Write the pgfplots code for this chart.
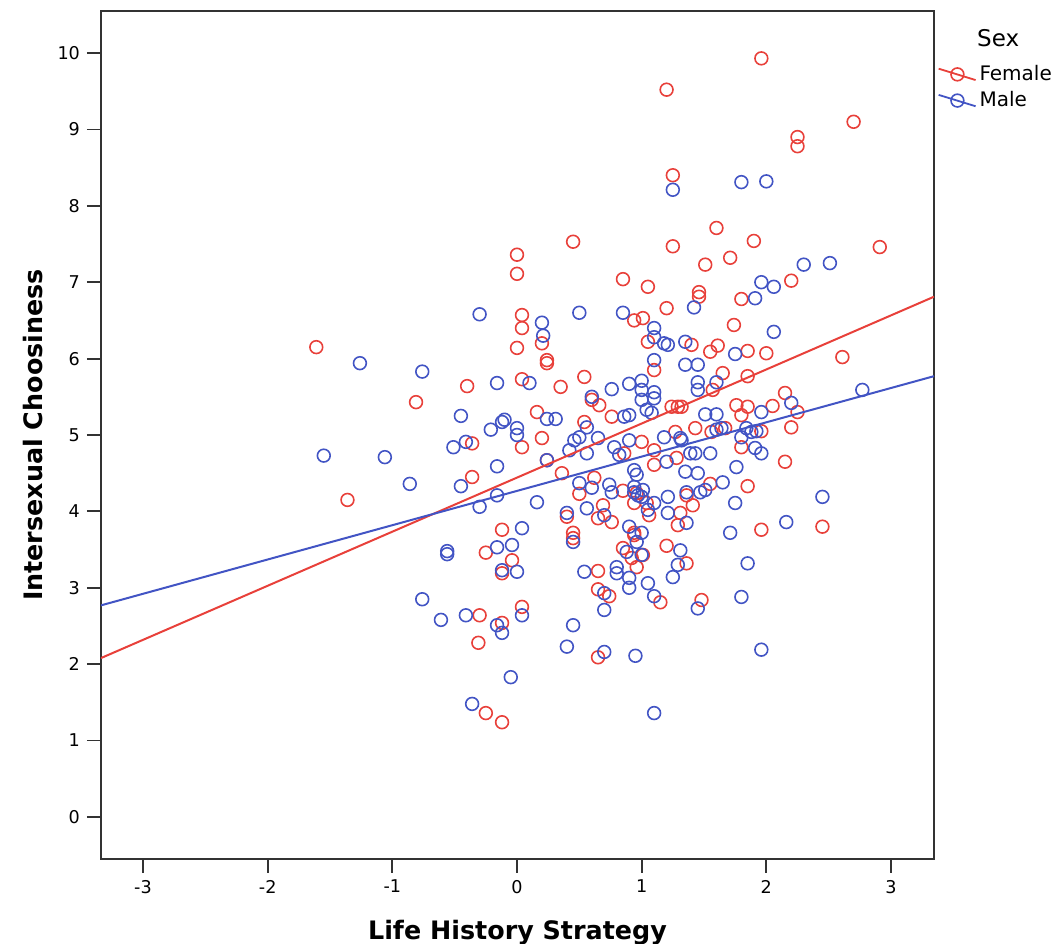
\documentclass[border=0pt]{standalone}
\usepackage{pgfplots}
\usepackage{pgfplotstable}
\pgfplotsset{compat=1.18}
\usepackage{fontspec}
\setmainfont{DejaVu Sans}

\definecolor{fem}{RGB}{232,64,58}
\definecolor{mal}{RGB}{66,84,196}

\pgfplotsset{
  sexleg/.style={legend image code/.code={
    \draw[#1,line width=0.9pt] (0cm,0.1cm) -- (0.65cm,-0.1cm);
    \draw[##1] plot coordinates {(0.33cm,0cm)};}}}

% Life history strategy (x) vs intersexual choosiness (y), by sex
\pgfplotstableread{
x y
1.96 9.93
2.70 9.10
2.25 8.90
2.25 8.78
1.60 7.71
1.90 7.54
2.91 7.46
1.71 7.32
1.51 7.23
2.20 7.02
1.46 6.87
1.46 6.81
1.80 6.78
1.74 6.44
1.20 9.52
1.25 8.40
1.25 7.47
0.45 7.53
0.00 7.36
0.00 7.11
0.85 7.04
1.05 6.94
1.20 6.66
0.94 6.50
1.01 6.53
0.04 6.57
0.04 6.40
0.20 6.20
0.00 6.14
1.40 6.18
1.05 6.22
-1.61 6.15
-0.40 5.64
-0.81 5.43
-0.36 4.89
-0.36 4.45
-1.36 4.15
-0.12 3.76
0.24 5.98
0.24 5.94
1.10 5.85
0.04 5.73
0.35 5.63
0.54 5.76
0.60 5.46
0.66 5.39
0.16 5.30
0.76 5.24
1.24 5.37
1.29 5.37
1.32 5.37
0.54 5.17
0.20 4.96
0.04 4.84
1.00 4.91
1.10 4.80
1.27 5.04
1.43 5.09
1.28 4.70
0.86 4.76
0.24 4.67
0.36 4.50
1.10 4.61
0.62 4.44
0.50 4.23
0.85 4.27
0.96 4.24
0.94 4.11
1.04 4.11
1.36 4.21
1.41 4.08
0.40 3.93
0.69 4.08
0.65 3.91
0.76 3.86
1.06 3.95
1.31 3.98
1.29 3.82
0.94 3.72
0.45 3.72
1.55 6.09
1.61 6.17
1.85 6.10
2.00 6.07
2.61 6.02
1.65 5.81
1.85 5.77
1.57 5.59
2.15 5.55
2.25 5.30
1.76 5.39
1.85 5.37
1.80 5.26
2.05 5.38
1.56 5.04
1.67 5.09
1.96 5.05
2.20 5.10
1.80 4.84
2.15 4.65
1.55 4.36
1.85 4.33
2.45 3.80
1.96 3.76
-0.25 3.46
-0.12 3.19
-0.30 2.64
-0.12 2.54
-0.31 2.28
-0.25 1.36
-0.12 1.24
-0.04 3.36
0.04 2.75
0.45 3.65
0.85 3.52
0.94 3.69
0.92 3.39
0.96 3.27
1.01 3.43
1.20 3.55
1.36 3.32
0.65 3.22
0.65 2.98
0.74 2.89
1.15 2.81
1.48 2.84
0.65 2.09
}\female

\pgfplotstableread{
x y
1.80 8.31
2.00 8.32
2.30 7.23
2.51 7.25
1.96 7.00
2.06 6.94
1.91 6.79
1.42 6.67
2.06 6.35
1.25 8.21
0.50 6.60
0.85 6.60
0.20 6.47
0.21 6.30
1.10 6.40
1.10 6.28
1.18 6.20
1.21 6.18
1.35 6.22
-0.30 6.58
-1.26 5.94
-0.76 5.83
-0.16 5.68
-0.45 5.25
-0.12 5.17
-0.21 5.07
-0.51 4.84
-0.41 4.91
-1.55 4.73
-1.06 4.71
-0.16 4.59
-0.86 4.36
-0.45 4.33
-0.16 4.21
-0.30 4.06
1.10 5.98
1.35 5.92
1.45 5.92
0.10 5.68
0.76 5.60
0.90 5.67
1.00 5.71
1.00 5.59
1.10 5.56
1.10 5.48
1.45 5.69
1.45 5.59
0.60 5.50
1.00 5.46
0.24 5.21
0.31 5.21
0.86 5.24
0.90 5.26
1.04 5.33
1.08 5.29
-0.10 5.20
0.00 5.09
0.00 5.00
0.56 5.10
0.50 4.97
0.46 4.93
0.65 4.96
0.42 4.80
0.56 4.76
0.78 4.84
0.90 4.93
1.18 4.97
1.31 4.96
1.32 4.93
1.39 4.76
1.43 4.76
1.55 4.76
1.20 4.65
0.82 4.74
0.24 4.67
0.94 4.54
0.96 4.48
1.35 4.52
1.45 4.50
0.50 4.37
0.60 4.31
0.74 4.35
0.76 4.25
0.94 4.32
0.94 4.25
0.97 4.21
1.01 4.28
1.00 4.19
1.10 4.11
1.21 4.19
1.36 4.25
1.47 4.25
0.16 4.12
0.40 3.98
0.56 4.04
0.70 3.95
1.05 4.02
1.21 3.98
1.36 3.85
0.04 3.78
0.90 3.80
1.00 3.72
1.75 6.06
1.60 5.69
2.77 5.59
2.20 5.42
1.96 5.30
1.51 5.27
1.60 5.27
1.60 5.07
1.64 5.09
1.84 5.09
1.88 5.04
1.92 5.05
1.80 4.97
1.91 4.83
1.96 4.76
1.76 4.58
1.65 4.38
1.51 4.28
1.75 4.11
2.45 4.19
2.16 3.86
1.71 3.72
-0.56 3.48
-0.56 3.44
-0.16 3.53
-0.12 3.23
-0.76 2.85
-0.61 2.58
-0.41 2.64
-0.16 2.51
-0.12 2.41
-0.36 1.48
-0.05 1.83
-0.04 3.56
0.00 3.21
0.04 2.64
0.45 3.60
0.96 3.60
1.00 3.43
0.88 3.47
1.31 3.49
1.29 3.30
1.25 3.14
0.54 3.21
0.80 3.27
0.80 3.19
0.90 3.13
0.90 3.00
1.05 3.06
0.70 2.93
1.10 2.89
0.70 2.71
1.45 2.73
0.45 2.51
0.40 2.23
0.70 2.16
0.95 2.11
1.10 1.36
1.85 3.32
1.80 2.88
1.96 2.19
}\male

\begin{document}
\begin{tikzpicture}
\begin{axis}[
scale only axis,
width=416.5pt,height=424pt,
xmin=-3.337,xmax=3.345,
ymin=-0.55,ymax=10.55,
clip mode=individual,
xtick={-3,-2,-1,0,1,2,3},
ytick={0,1,2,3,4,5,6,7,8,9,10},
tick align=outside,tick pos=left,
major tick length=7pt,
axis line style={black!80,line width=0.9pt},
every tick/.style={black!80,line width=0.9pt},
tick label style={font=\fontsize{8.8}{10}\selectfont},
/pgf/number format/assume math mode=true,
xlabel={Life History Strategy},
ylabel={Intersexual Choosiness},
label style={font=\fontsize{12.7}{15}\selectfont\bfseries},
xlabel style={at={(axis description cs:0.5,-0.0955)},anchor=base},
ylabel style={at={(axis description cs:-0.0816,0.5)},anchor=center},
legend style={at={(axis description cs:1.004,0.94)},anchor=north west,
  draw=none,fill=none,inner sep=0pt,
  font=\fontsize{10}{12.5}\selectfont,
  nodes={inner sep=1.5pt},row sep=1pt},
legend cell align=left,
]
\addplot[only marks,mark=o,mark size=3.2pt,color=fem,line width=0.8pt,sexleg=fem]
  table {\female};
\addlegendentry{Female}
\addplot[only marks,mark=o,mark size=3.2pt,color=mal,line width=0.8pt,sexleg=mal]
  table {\male};
\addlegendentry{Male}
% fit lines
\addplot[fem,line width=1pt,forget plot] coordinates {(-3.337,2.08) (3.345,6.81)};
\addplot[mal,line width=1pt,forget plot] coordinates {(-3.337,2.77) (3.345,5.77)};
\node[font=\fontsize{11.5}{13}\selectfont] at (axis description cs:1.077,0.968) {Sex};
\coordinate (ll) at (axis description cs:0,0);
\coordinate (ur) at (axis description cs:1,1);
\end{axis}
\pgfresetboundingbox
\path[use as bounding box] ([shift={(-50.5pt,-42.5pt)}]ll) rectangle ([shift={(65pt,5.5pt)}]ur);
\end{tikzpicture}
\end{document}
